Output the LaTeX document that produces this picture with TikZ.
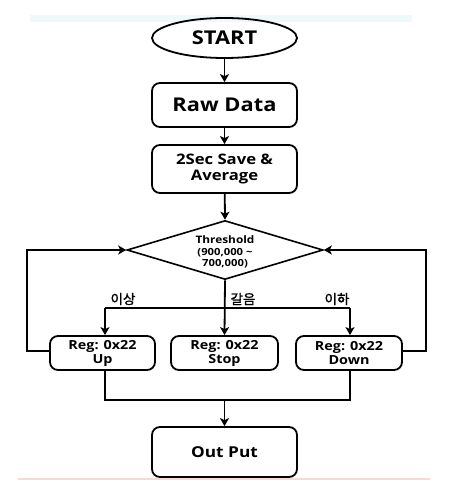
\documentclass[tikz,border=0pt]{standalone}
\usepackage{fontspec}
\setmainfont{Open Sans}[FakeStretch=1.15]
\newfontfamily\kr{Noto Sans CJK KR}[AutoFakeBold=1.5]
\usetikzlibrary{shapes.geometric,arrows.meta}
\definecolor{bandcyan}{HTML}{EEFAFA}
\definecolor{bandpink}{HTML}{F8D8D8}
\tikzset{
  every node/.style={font=\bfseries},
  box/.style={draw, line width=1.8pt, rounded corners=8pt, align=center, inner sep=0pt},
  term/.style={draw, line width=1.8pt, ellipse, inner sep=0pt, minimum width=145pt, minimum height=40pt},
  dec/.style={draw, line width=1.6pt, diamond, aspect=3.3, inner sep=0pt, minimum width=196pt, minimum height=59pt, align=center},
  flow/.style={line width=1.8pt, -{Stealth[length=8pt,width=9pt,inset=2pt]}},
  line/.style={line width=1.8pt},
  lab/.style={font=\kr\bfseries\fontsize{13.5}{15}\selectfont},
  regtxt/.style={font=\bfseries\fontsize{12.5}{14}\selectfont}
}
\begin{document}
\begin{tikzpicture}[x=1pt,y=-1pt]
\useasboundingbox (0,0) rectangle (449,492);
\fill[bandcyan] (30,15) rectangle (412,22);
\fill[bandpink] (18,477.5) rectangle (430,480);
\node[term, font=\bfseries\fontsize{19}{22}\selectfont] (start) at (224.5,38) {START};
\node[box, minimum width=145pt, minimum height=44pt, font=\bfseries\fontsize{19}{22}\selectfont] (raw) at (224.5,105) {Raw Data};
\node[box, minimum width=145pt, minimum height=48pt, font=\bfseries\fontsize{14.5}{15.5}\selectfont] (avg) at (224.5,169) {2Sec Save \&\\Average};
\node[dec] (th) at (225,250) {};
\node[align=center, font=\bfseries\fontsize{10.3}{11}\selectfont] (thl) at (225,240) {Threshold};
\node[align=center, font=\bfseries\fontsize{9.8}{11}\selectfont] (thr) at (225,258.5) {(900,000 \textasciitilde\\700,000)};
\node[box, regtxt, minimum width=105pt, minimum height=34pt] (up) at (102.5,353) {Reg: 0x22\\Up};
\node[box, regtxt, minimum width=107pt, minimum height=34pt] (stop) at (224.5,353) {Reg: 0x22\\Stop};
\node[box, regtxt, minimum width=106pt, minimum height=34pt] (down) at (349,353) {Reg: 0x22\\Down};
\node[box, minimum width=145pt, minimum height=50pt, font=\bfseries\fontsize{15}{17}\selectfont] (out) at (224.5,452) {Out Put};
\node[lab] (l1) at (123,299) {이상};
\node[lab] (l2) at (243,299) {갈음};
\node[lab] (l3) at (337,299) {이하};
\coordinate (bl) at (105,308);
\coordinate (br) at (350,308);
\coordinate (ml) at (105,400);
\coordinate (mr) at (350,400);
\coordinate (mc) at (224.5,400);
\draw[flow] (start) -- (raw);
\draw[flow] (raw) -- (avg);
\draw[flow] (avg) -- (th.north);
\draw[flow] (th.south) -- (stop.north);
\draw[line] (bl) -- (br);
\draw[flow] (bl) -- (bl |- up.north);
\draw[flow] (br) -- (br |- down.north);
\draw[flow] ([yshift=2pt]up.west) -- ++(-22pt,0) |- (th.west);
\draw[flow] ([yshift=2pt]down.east) -- ++(23pt,0) |- (th.east);
\draw[line] (ml |- up.south) -- (ml) -- (mr) -- (mr |- down.south);
\draw[flow] (mc) -- (out.north);
\end{tikzpicture}
\end{document}
